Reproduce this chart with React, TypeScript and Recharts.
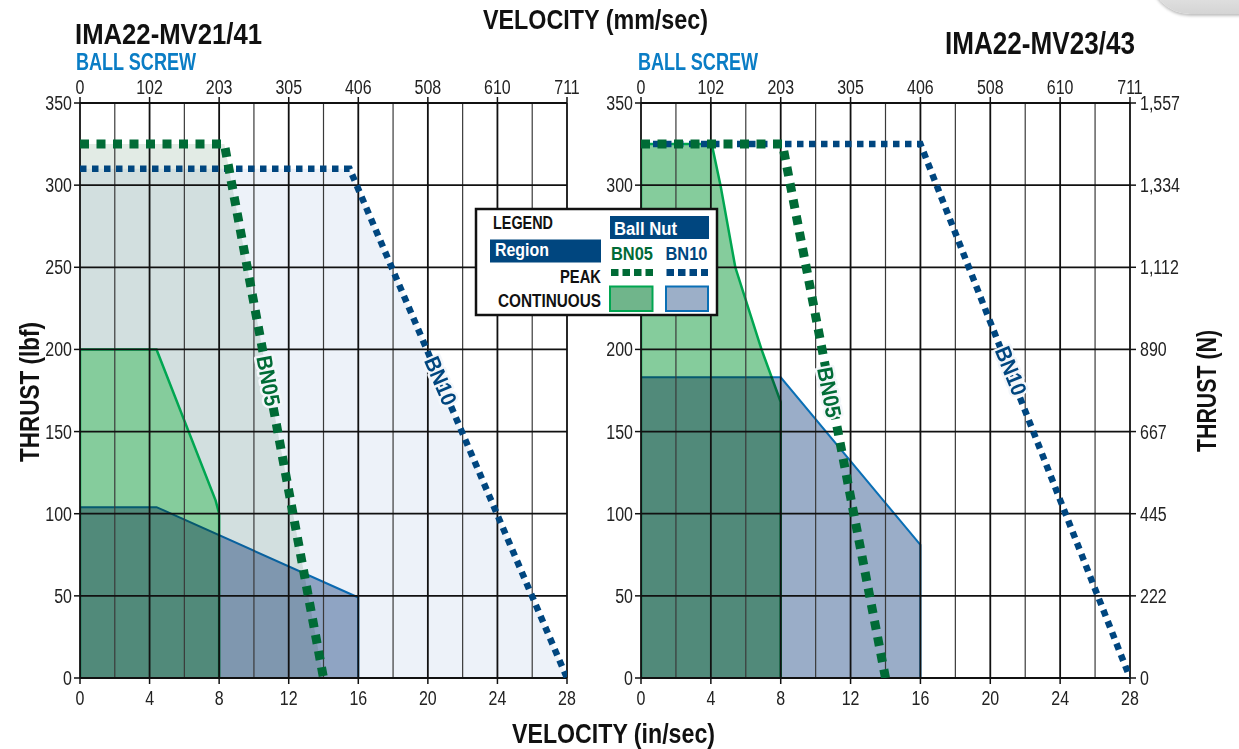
import React from "react";
import {
  ComposedChart,
  Area,
  Line,
  XAxis,
  YAxis,
  ReferenceLine,
  ReferenceDot,
} from "recharts";

const FONT = "'Liberation Sans', Arial, sans-serif";
const TICK_SX = 0.82;

// axes
const IN_TICKS = [0, 4, 8, 12, 16, 20, 24, 28];
const MM_LABELS = ["0", "102", "203", "305", "406", "508", "610", "711"];
const LBF_TICKS = [0, 50, 100, 150, 200, 250, 300, 350];
const N_LABELS = ["0", "222", "445", "667", "890", "1,112", "1,334", "1,557"];
const MINOR_X = [2, 6, 10, 14, 18, 22, 26];

// IMA22-MV21/41 (velocity in/sec, thrust lbf)
const L_PEAK_BN05 = [
  { x: 0, y: 325 },
  { x: 8.3, y: 325 },
  { x: 14, y: 0 },
];
const L_PEAK_BN10 = [
  { x: 0, y: 310 },
  { x: 15.5, y: 310 },
  { x: 28, y: 0 },
];
const L_CONT_BN05 = [
  { x: 0, y: 0 },
  { x: 0, y: 200 },
  { x: 4.4, y: 200 },
  { x: 7.8, y: 108 },
  { x: 8, y: 100 },
  { x: 8, y: 0 },
];
const L_CONT_BN10 = [
  { x: 0, y: 0 },
  { x: 0, y: 104 },
  { x: 4.4, y: 104 },
  { x: 16, y: 49 },
  { x: 16, y: 0 },
];

// IMA22-MV23/43
const R_PEAK_BN05 = [
  { x: 0, y: 325 },
  { x: 8.1, y: 325 },
  { x: 14, y: 0 },
];
const R_PEAK_BN10 = [
  { x: 0, y: 325 },
  { x: 16, y: 325 },
  { x: 28, y: 0 },
];
const R_CONT_BN05 = [
  { x: 0, y: 0 },
  { x: 0, y: 325 },
  { x: 4.05, y: 325 },
  { x: 4.55, y: 300 },
  { x: 5.4, y: 250 },
  { x: 6.9, y: 200 },
  { x: 8, y: 168 },
  { x: 8, y: 0 },
];
const R_CONT_BN10 = [
  { x: 0, y: 0 },
  { x: 0, y: 183 },
  { x: 8, y: 183 },
  { x: 16, y: 81 },
  { x: 16, y: 0 },
];

const GREEN_DARK = "#006b36";
const NAVY = "#00467f";
const GREEN_FILL = "#85cc9c";
const GREEN_LINE = "#00a651";
const BLUE_FILL = "#9aadc8";
const BLUE_LINE = "#0a6fb5";
const SKY = "#0a7dc5";

type Side = "bottom" | "top" | "left" | "right";

function tickRenderer(side: Side, labels?: string[], values?: number[], hidden: number[] = []) {
  return (props: any) => {
    const { x, y, payload } = props;
    const v = payload.value;
    if (hidden.includes(v)) return <g />;
    const text = labels && values ? labels[values.indexOf(v)] : String(v);
    const anchor = side === "left" ? "end" : side === "right" ? "start" : "middle";
    const dy = side === "bottom" ? "0.72em" : side === "top" ? "0" : "0.36em";
    return (
      <g transform={`translate(${x},${y})`}>
        <text
          transform={`scale(${TICK_SX},1)`}
          textAnchor={anchor}
          dy={dy}
          fontFamily={FONT}
          fontSize={19.5}
          fill="#222"
        >
          {text}
        </text>
      </g>
    );
  };
}

function peakLabel(text: string, color: string, angle: number) {
  return (p: any) => (
    <g transform={`translate(${p.cx},${p.cy}) rotate(${angle}) scale(0.9,1)`}>
      <text
        textAnchor="middle"
        dominantBaseline="central"
        fontFamily={FONT}
        fontWeight={700}
        fontSize={22}
        fill={color}
        stroke="#f3f6fa"
        strokeWidth={5}
        strokeLinejoin="round"
        paintOrder="stroke"
      >
        {text}
      </text>
    </g>
  );
}

interface PanelProps {
  peak05: { x: number; y: number }[];
  peak10: { x: number; y: number }[];
  cont05: { x: number; y: number }[];
  cont10: { x: number; y: number }[];
  shadePeak: boolean;
  rightAxis: boolean;
  hiddenLeft: number[];
  width: number;
  margin: { top: number; right: number; bottom: number; left: number };
  yWidth: number;
  label05: { x: number; y: number; a: number };
  label10: { x: number; y: number; a: number };
}

const tickLine = { stroke: "#111", strokeWidth: 1.5 };

function Panel(p: PanelProps) {
  return (
    <ComposedChart width={p.width} height={749} margin={p.margin}>
      <XAxis
        type="number"
        dataKey="x"
        domain={[0, 28]}
        ticks={IN_TICKS}
        interval={0}
        allowDataOverflow
        axisLine={false}
        tickLine={tickLine}
        tickSize={6}
        tickMargin={7}
        height={30}
        tick={tickRenderer("bottom")}
      />
      <XAxis
        xAxisId="top"
        orientation="top"
        type="number"
        dataKey="x"
        domain={[0, 28]}
        ticks={IN_TICKS}
        interval={0}
        allowDataOverflow
        axisLine={false}
        tickLine={tickLine}
        tickSize={6}
        tickMargin={3}
        height={30}
        tick={tickRenderer("top", MM_LABELS, IN_TICKS)}
      />
      <YAxis
        type="number"
        domain={[0, 350]}
        ticks={LBF_TICKS}
        interval={0}
        allowDataOverflow
        axisLine={false}
        tickLine={tickLine}
        tickSize={6}
        tickMargin={2}
        width={p.yWidth}
        tick={tickRenderer("left", undefined, undefined, p.hiddenLeft)}
      />
      {p.rightAxis && (
        <YAxis
          yAxisId="right"
          orientation="right"
          type="number"
          domain={[0, 350]}
          ticks={LBF_TICKS}
          interval={0}
          allowDataOverflow
          axisLine={false}
          tickLine={tickLine}
          tickSize={6}
          tickMargin={4}
          width={60}
          tick={tickRenderer("right", N_LABELS, LBF_TICKS)}
        />
      )}

      {p.shadePeak && (
        <Area
          data={p.peak10}
          dataKey="y"
          type="linear"
          stroke="none"
          fill="#edf2f9"
          fillOpacity={1}
          isAnimationActive={false}
        />
      )}
      {p.shadePeak && (
        <Area
          data={p.peak05}
          dataKey="y"
          type="linear"
          stroke="none"
          fill="#e2ebe5"
          fillOpacity={1}
          className="mult"
          isAnimationActive={false}
        />
      )}
      <Area
        data={p.cont05}
        dataKey="y"
        type="linear"
        stroke={GREEN_LINE}
        strokeWidth={2.5}
        fill={GREEN_FILL}
        fillOpacity={1}
        isAnimationActive={false}
      />
      <Area
        data={p.cont10}
        dataKey="y"
        type="linear"
        stroke={BLUE_LINE}
        strokeWidth={2}
        fill={BLUE_FILL}
        fillOpacity={1}
        className="mult"
        isAnimationActive={false}
      />

      {MINOR_X.map((x) => (
        <ReferenceLine key={"m" + x} x={x} stroke="#3a3a3a" strokeWidth={1.2} zIndex={150} />
      ))}
      {IN_TICKS.map((x) => (
        <ReferenceLine key={"v" + x} x={x} stroke="#111" strokeWidth={1.8} zIndex={150} />
      ))}
      {LBF_TICKS.map((y) => (
        <ReferenceLine key={"h" + y} y={y} stroke="#111" strokeWidth={1.8} zIndex={150} />
      ))}

      <Line
        data={p.peak10}
        dataKey="y"
        type="linear"
        stroke={NAVY}
        strokeWidth={6.5}
        strokeDasharray="6.5 5.5"
        dot={false}
        activeDot={false}
        isAnimationActive={false}
      />
      <Line
        data={p.peak05}
        dataKey="y"
        type="linear"
        stroke={GREEN_DARK}
        strokeWidth={9}
        strokeDasharray="9 7.5"
        dot={false}
        activeDot={false}
        isAnimationActive={false}
      />
      <ReferenceDot
        x={p.label05.x}
        y={p.label05.y}
        r={0}
        zIndex={2100}
        shape={peakLabel("BN05", GREEN_DARK, p.label05.a)}
      />
      <ReferenceDot
        x={p.label10.x}
        y={p.label10.y}
        r={0}
        zIndex={2100}
        shape={peakLabel("BN10", NAVY, p.label10.a)}
      />
    </ComposedChart>
  );
}

// condensed bold text squeezed to the width it has in the picture
function T(props: {
  x: number;
  y: number;
  len: number;
  size: number;
  fill?: string;
  children: string;
}) {
  return (
    <text
      x={props.x}
      y={props.y}
      textLength={props.len}
      lengthAdjust="spacingAndGlyphs"
      fontFamily={FONT}
      fontWeight={700}
      fontSize={props.size}
      fill={props.fill || "#111"}
    >
      {props.children}
    </text>
  );
}

function Overlay() {
  return (
    <svg
      width={1239}
      height={749}
      style={{ position: "absolute", left: 0, top: 0, pointerEvents: "none" }}
    >
      <T x={483} y={29} len={225} size={28}>VELOCITY (mm/sec)</T>
      <T x={512} y={743} len={203} size={28}>VELOCITY (in/sec)</T>
      <T x={75} y={44} len={187} size={30}>IMA22-MV21/41</T>
      <T x={945} y={54} len={190} size={31}>IMA22-MV23/43</T>
      <T x={76} y={70} len={120} size={23} fill={SKY}>BALL SCREW</T>
      <T x={638} y={70} len={120} size={23} fill={SKY}>BALL SCREW</T>
      <g transform="translate(39,462) rotate(-90)">
        <T x={0} y={0} len={140} size={28}>THRUST (lbf)</T>
      </g>
      <g transform="translate(1216,452) rotate(-90)">
        <T x={0} y={0} len={122} size={28}>THRUST (N)</T>
      </g>

      {/* legend */}
      <rect x={476} y={209} width={241} height={106} fill="#fff" stroke="#111" strokeWidth={2.5} />
      <T x={493} y={229} len={60} size={19}>LEGEND</T>
      <rect x={610} y={216} width={99} height={23} fill={NAVY} />
      <T x={614} y={234.5} len={63} size={19} fill="#fff">Ball Nut</T>
      <rect x={490} y={239.5} width={111} height={23} fill={NAVY} />
      <T x={495} y={256} len={54} size={19} fill="#fff">Region</T>
      <T x={611} y={259.5} len={42} size={19} fill={GREEN_DARK}>BN05</T>
      <T x={665.5} y={259.5} len={42} size={19} fill={NAVY}>BN10</T>
      <T x={560} y={283} len={41} size={19}>PEAK</T>
      <line x1={611} y1={272.5} x2={653} y2={272.5} stroke={GREEN_DARK} strokeWidth={7} strokeDasharray="7.5 4" />
      <line x1={666.5} y1={272.5} x2={708} y2={272.5} stroke={NAVY} strokeWidth={7} strokeDasharray="7.5 4" />
      <T x={498} y={306.5} len={103} size={19}>CONTINUOUS</T>
      <rect x={610} y={286.5} width={42.5} height={24.5} fill="#70b58b" stroke={GREEN_LINE} strokeWidth={2} />
      <rect x={666} y={286.5} width={42} height={24.5} fill="#9cafc8" stroke={BLUE_LINE} strokeWidth={2} />
    </svg>
  );
}

export default function App() {
  return (
    <div
      style={{
        position: "relative",
        width: 1239,
        height: 749,
        background: "#fff",
        overflow: "hidden",
      }}
    >
      <style>{"body{margin:0} .mult{mix-blend-mode:multiply}"}</style>

      <div style={{ position: "absolute", left: 0, top: 0 }}>
        <Panel
          width={620}
          margin={{ top: 73, right: 53, bottom: 41, left: 35 }}
          yWidth={45}
          peak05={L_PEAK_BN05}
          peak10={L_PEAK_BN10}
          cont05={L_CONT_BN05}
          cont10={L_CONT_BN10}
          shadePeak
          rightAxis={false}
          hiddenLeft={[]}
          label05={{ x: 10.85, y: 181, a: 79.5 }}
          label10={{ x: 20.75, y: 181, a: 67 }}
        />
      </div>
      <div style={{ position: "absolute", left: 600, top: 0 }}>
        <Panel
          width={639}
          margin={{ top: 73, right: 49, bottom: 41, left: 6 }}
          yWidth={35}
          peak05={R_PEAK_BN05}
          peak10={R_PEAK_BN10}
          cont05={R_CONT_BN05}
          cont10={R_CONT_BN10}
          shadePeak={false}
          rightAxis
          hiddenLeft={[250]}
          label05={{ x: 10.8, y: 174, a: 79 }}
          label10={{ x: 21.2, y: 187, a: 68 }}
        />
      </div>

      <Overlay />

      <div
        style={{
          position: "absolute",
          left: 1150,
          top: -30,
          width: 140,
          height: 44,
          borderBottomLeftRadius: 40,
          background: "linear-gradient(#f4f4f4, #d4d4d4)",
          boxShadow: "0 2px 3px rgba(0,0,0,0.25)",
        }}
      />
    </div>
  );
}
